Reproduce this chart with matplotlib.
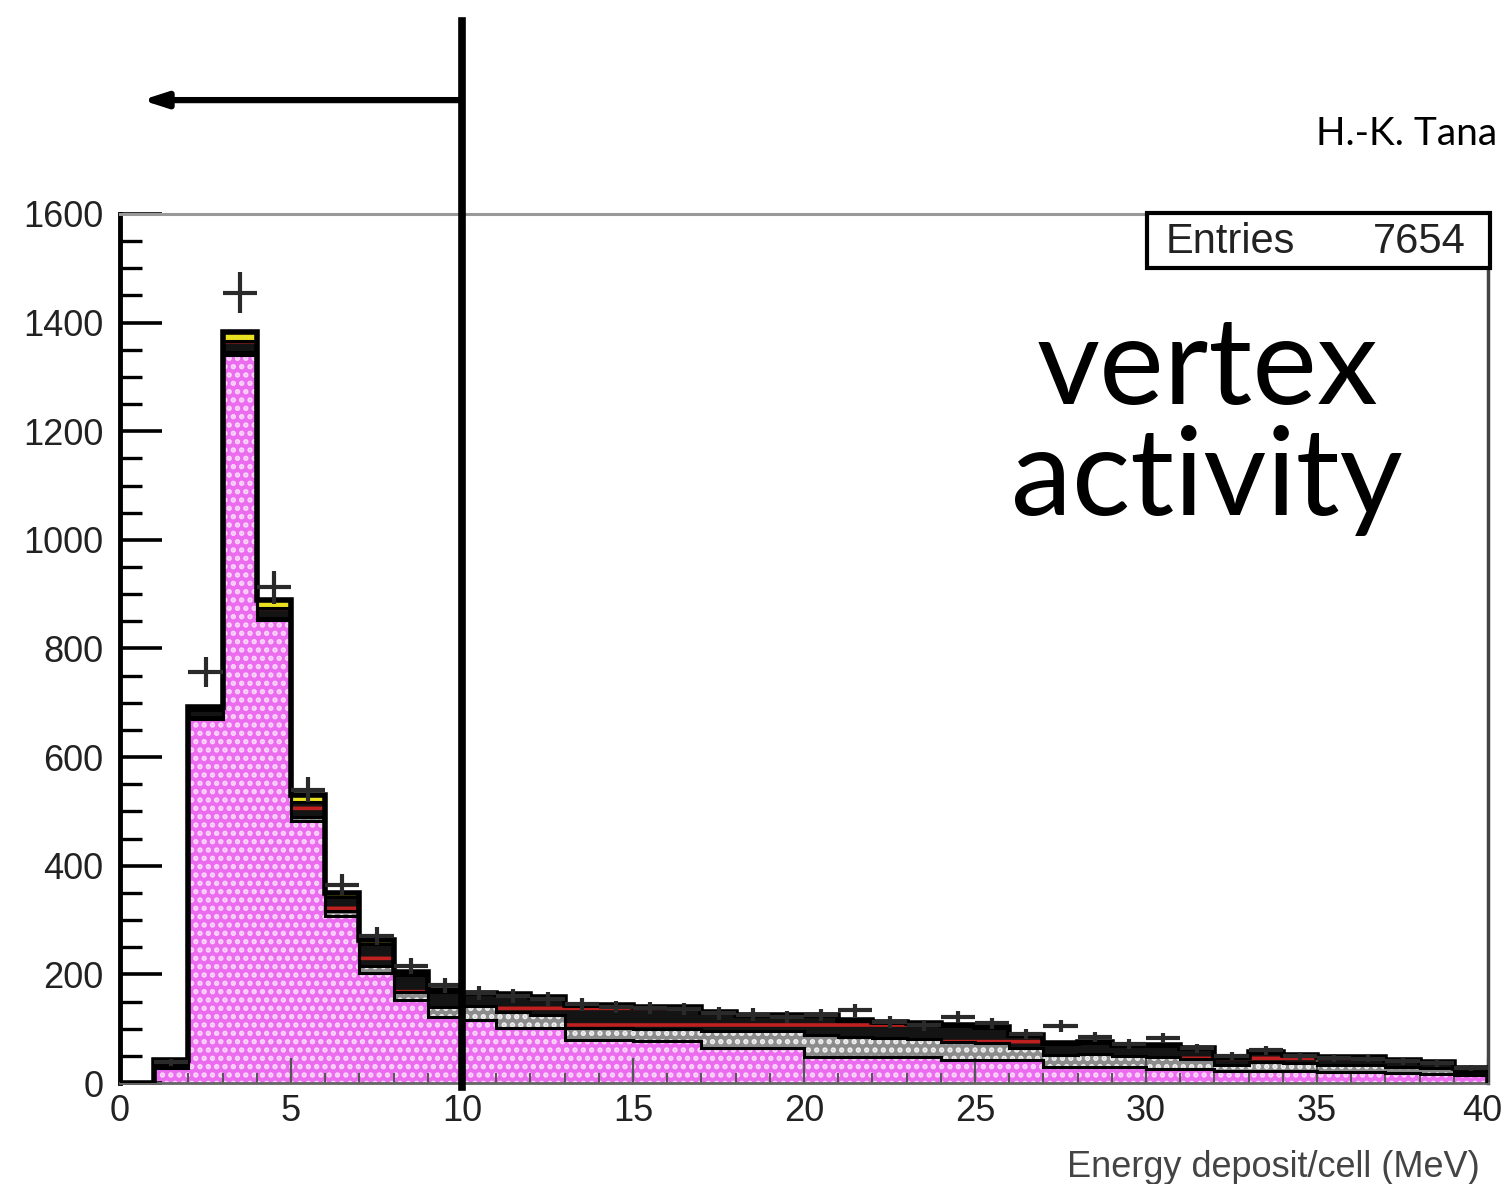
import numpy as np
import matplotlib
matplotlib.use("Agg")
import matplotlib.pyplot as plt
from matplotlib.patches import Rectangle
from matplotlib.transforms import ScaledTranslation

# histogram binning (MeV)
edges = np.arange(0, 41, 1)

# stacked MC components per bin
pink = [0, 28, 670, 1340, 852, 482, 308, 202, 153, 122,
        116, 102, 101, 80, 80, 78, 78, 64, 64, 64,
        48, 48, 48, 48, 42, 42, 42, 30, 30, 30,
        26, 26, 22, 22, 22, 20, 20, 18, 16, 14]
grey = [0, 6, 4, 5, 5, 8, 8, 14, 14, 18,
        26, 28, 24, 22, 22, 22, 22, 32, 32, 32,
        40, 36, 34, 33, 34, 32, 22, 22, 24, 20,
        22, 18, 12, 16, 14, 14, 14, 12, 12, 7]
dark = [0, 6, 12, 22, 18, 28, 26, 40, 32, 27,
        22, 32, 31, 40, 40, 38, 38, 33, 27, 27,
        35, 30, 28, 27, 29, 27, 22, 20, 20, 18,
        20, 18, 12, 17, 14, 12, 12, 10, 9, 6]
yellow = [0, 2, 6, 16, 14, 12, 8, 7, 5, 4,
          2, 2, 2, 2, 2, 2, 2, 2, 2, 2,
          2, 2, 2, 2, 2, 2, 2, 2, 2, 2,
          2, 2, 2, 2, 2, 2, 2, 2, 2, 1]

# data counts
data = [0, 38, 757, 1455, 913, 540, 365, 270, 215, 180,
        165, 160, 155, 145, 140, 138, 136, 128, 126, 122,
        125, 134, 112, 106, 122, 110, 90, 105, 85, 72,
        83, 64, 50, 60, 50, 46, 45, 40, 36, 28]

n_entries = 7654

plt.rcParams['hatch.linewidth'] = 2.6

fig = plt.figure(figsize=(15.04, 11.84), dpi=100)
ax = fig.add_axes([0.0798, 0.0853, 0.9096, 0.734])

layers = [np.array(pink), np.array(grey), np.array(dark), np.array(yellow)]
faces = ['#ec6cf0', '#8c8c8c', '#141414', '#e8e020']
hatch_cols = ['#fbd8fb', '#f0f0f0', '#c02020', '#e8e020']
hatches = ['..', '..', '-', None]

bottom = np.zeros(len(pink))
for vals, fc, hc, h in zip(layers, faces, hatch_cols, hatches):
    top = bottom + vals
    ax.stairs(top, edges, baseline=bottom, fill=True, facecolor=fc,
              edgecolor=hc, hatch=h, linewidth=0, zorder=1)
    ax.stairs(top, edges, baseline=None, color='black', lw=2.2, zorder=2)
    bottom = top

# total outline
ax.stairs(bottom, edges, color='black', lw=4, zorder=3)

# data points
d = np.array(data, dtype=float)
centers = 0.5 * (edges[:-1] + edges[1:])
mask = d > 0
ax.errorbar(centers[mask], d[mask], xerr=0.5, yerr=np.sqrt(d[mask]),
            fmt='none', ecolor='#2a2a2a', elinewidth=3, capsize=0, zorder=4)

ax.set_xlim(0, 40)
ax.set_ylim(0, 1600)
ax.set_xticks(np.arange(0, 41, 5))
ax.set_xticks(np.arange(0, 41, 1), minor=True)
ax.set_yticks(np.arange(0, 1601, 200))
ax.set_yticks(np.arange(0, 1601, 50), minor=True)

tick_font = 'Liberation Sans'
ax.tick_params(axis='y', which='major', direction='in', length=30, width=2.6,
               color='black', labelsize=26, pad=12, labelcolor='#222222')
ax.tick_params(axis='y', which='minor', direction='in', length=16, width=2.4,
               color='black')
ax.tick_params(axis='x', which='major', direction='in', length=18, width=1.6,
               color='#555555', labelsize=26, pad=8, labelcolor='#222222')
ax.tick_params(axis='x', which='minor', direction='in', length=7, width=1.4,
               color='#555555')
for lab in ax.get_xticklabels() + ax.get_yticklabels():
    lab.set_fontfamily(tick_font)
# keep the last x label inside the canvas
last = ax.get_xticklabels()[-1]
last.set_transform(last.get_transform() + ScaledTranslation(-0.06, 0, fig.dpi_scale_trans))

ax.spines['left'].set_linewidth(3.5)
ax.spines['left'].set_color('black')
ax.spines['bottom'].set_linewidth(2)
ax.spines['bottom'].set_color('#666666')
ax.spines['top'].set_linewidth(2.2)
ax.spines['top'].set_color('#999999')
ax.spines['right'].set_linewidth(2.5)
ax.spines['right'].set_color('#444444')

ax.set_xlabel('Energy deposit/cell (MeV)', loc='right', fontsize=26,
              color='#444444', family=tick_font)
ax.xaxis.set_label_coords(0.994, -0.077)

# stats box
box = Rectangle((0.7507, 0.938), 0.2508, 0.063, transform=ax.transAxes,
                facecolor='white', edgecolor='black', lw=3, clip_on=False, zorder=5)
ax.add_patch(box)
ax.text(0.764, 0.968, 'Entries', transform=ax.transAxes, fontsize=30,
        family=tick_font, color='#222222', va='center', ha='left', zorder=6)
ax.text(0.984, 0.968, str(n_entries), transform=ax.transAxes, fontsize=30,
        family=tick_font, color='#222222', va='center', ha='right', zorder=6)

# cut line at 10 MeV with arrow
ax.plot([10, 10], [-0.005, 1.222], transform=ax.get_xaxis_transform(),
        color='black', lw=5.5, clip_on=False, zorder=7)
ax.annotate('', xy=(0.64, 1.131), xytext=(10, 1.131),
            xycoords=('data', 'axes fraction'), textcoords=('data', 'axes fraction'),
            arrowprops=dict(arrowstyle='-|>,head_length=1.4,head_width=0.45',
                            lw=4.5, color='black', shrinkA=0, shrinkB=0),
            annotation_clip=False, zorder=7)

# annotations
ax.text(0.7946, 0.781, 'vertex', transform=ax.transAxes, fontsize=88,
        family='Lato', ha='center', va='baseline', color='black')
ax.text(0.7946, 0.654, 'activity', transform=ax.transAxes, fontsize=88,
        family='Lato', ha='center', va='baseline', color='black')
fig.text(1316 / 1504, 1 - 145 / 1184, 'H.-K. Tana', fontsize=28, family='Lato',
         ha='left', va='baseline', color='black')

fig.savefig('out.png', dpi=100)
